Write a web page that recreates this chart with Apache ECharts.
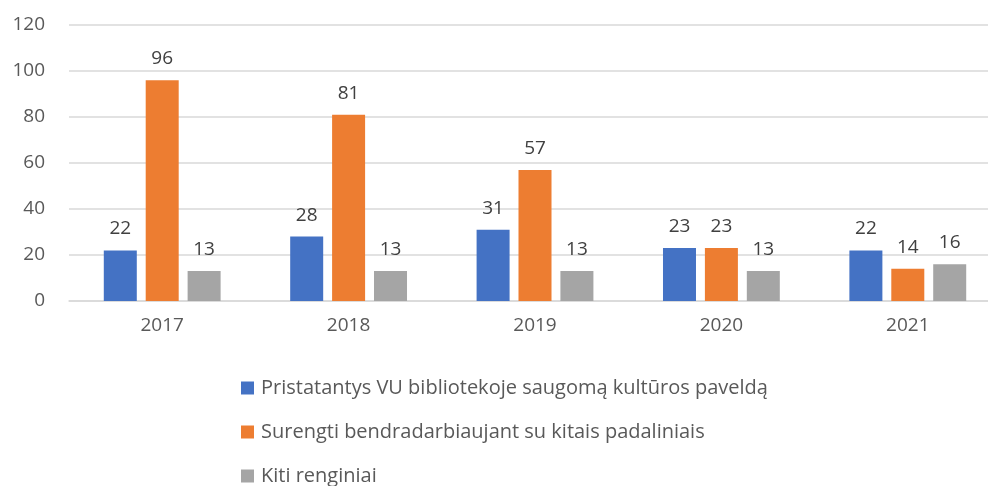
<!DOCTYPE html>
<html>
<head>
<meta charset="utf-8">
<script src="https://cdn.jsdelivr.net/npm/echarts@6/dist/echarts.min.js"></script>
<style>
  html, body { margin: 0; padding: 0; background: #fff; overflow: hidden; }
  #chart { width: 1001px; height: 486px; }
</style>
</head>
<body>
<div id="chart"></div>
<script>
const years = ["2017", "2018", "2019", "2020", "2021"];
const seriesNames = [
  "Pristatantys VU bibliotekoje saugomą kultūros paveldą",
  "Surengti bendradarbiaujant su kitais padaliniais",
  "Kiti renginiai"
];
const heritage = [22, 28, 31, 23, 22];
const cooperation = [96, 81, 57, 23, 14];
const other = [13, 13, 13, 13, 16];
const colors = ["#4472C4", "#ED7D31", "#A5A5A5"];

const font = "'Open Sans', 'Noto Sans', sans-serif";
const chart = echarts.init(document.getElementById("chart"));

const mkSeries = (name, data, color) => ({
  name: name,
  type: "bar",
  data: data,
  barWidth: 33,
  barGap: "27%",
  itemStyle: { color: color },
  label: {
    show: true,
    position: "top",
    distance: 12,
    color: "#404040",
    fontSize: 19,
    fontFamily: font
  }
});

chart.setOption({
  animation: false,
  textStyle: { fontFamily: font },
  grid: { left: 69, right: 0, top: 25, bottom: 185 },
  xAxis: {
    type: "category",
    data: years,
    axisLine: { lineStyle: { color: "#D9D9D9", width: 1.5 } },
    axisTick: { show: false },
    axisLabel: { color: "#595959", fontSize: 19, margin: 15, fontFamily: font }
  },
  yAxis: {
    type: "value",
    min: 0,
    max: 120,
    interval: 20,
    axisLine: { show: false },
    axisTick: { show: false },
    splitLine: { lineStyle: { color: "#D9D9D9", width: 1.5 } },
    axisLabel: { color: "#595959", fontSize: 19, margin: 24, fontFamily: font }
  },
  legend: {
    orient: "vertical",
    left: 236,
    top: 373,
    height: 140,
    itemGap: 24,
    itemWidth: 13,
    itemHeight: 13,
    icon: "rect",
    data: seriesNames,
    textStyle: { color: "#595959", fontSize: 20, fontFamily: font, padding: [0, 0, 0, 2] }
  },
  series: [
    mkSeries(seriesNames[0], heritage, colors[0]),
    mkSeries(seriesNames[1], cooperation, colors[1]),
    mkSeries(seriesNames[2], other, colors[2])
  ]
});
</script>
</body>
</html>
